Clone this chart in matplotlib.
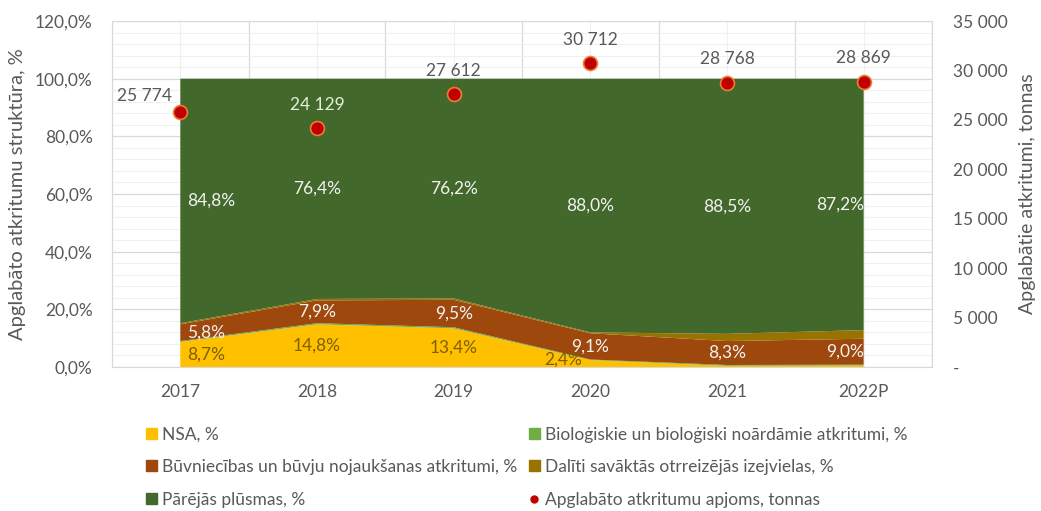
import matplotlib.pyplot as plt
from matplotlib.patches import Patch
from matplotlib.lines import Line2D
from matplotlib.ticker import FuncFormatter, MultipleLocator

plt.rcParams['font.family'] = ['Lato', 'DejaVu Sans']

years = ['2017', '2018', '2019', '2020', '2021', '2022P']
nsa = [8.7, 14.8, 13.4, 2.4, 0.4, 0.5]
bio = [0.3, 0.4, 0.4, 0.2, 0.3, 0.3]
constr = [5.8, 7.9, 9.5, 9.1, 8.3, 9.0]
separate = [0.4, 0.5, 0.5, 0.3, 2.5, 3.0]
other = [84.8, 76.4, 76.2, 88.0, 88.5, 87.2]
tonnes = [25774, 24129, 27612, 30712, 28768, 28869]

grey = '#595959'
colors = ['#FFC000', '#70AD47', '#9E480E', '#997300', '#43682B']
x = list(range(len(years)))
fs = 12.5

fig = plt.figure(figsize=(10.41, 5.11), dpi=100)
ax = fig.add_axes([0.1076, 0.2818, 0.7877, 0.6771])
ax.stackplot(x, nsa, bio, constr, separate, other, colors=colors, linewidth=0, zorder=2)

ax.set_xlim(-0.5, 5.5)
ax.set_ylim(0, 120)
ax.yaxis.set_major_locator(MultipleLocator(20))
ax.yaxis.set_minor_locator(MultipleLocator(4))
ax.set_xticks([i - 0.5 for i in range(7)])
ax.set_xticks(x, minor=True)
ax.set_xticklabels([])
ax.set_xticklabels(years, minor=True)
ax.yaxis.set_major_formatter(FuncFormatter(lambda v, p: f'{v:.1f}%'.replace('.', ',')))
ax.grid(which='major', color='#D9D9D9', lw=0.9, zorder=0)
ax.grid(which='minor', color='#F0F0F0', lw=0.8, zorder=0)
ax.set_axisbelow(True)
ax.tick_params(which='both', length=0, colors=grey, labelsize=fs)
ax.tick_params(axis='y', pad=14)
ax.tick_params(axis='x', which='minor', pad=12)
for s in ax.spines.values():
    s.set_color('#D9D9D9')
ax.set_ylabel('Apglabāto atkritumu struktūra, %', color=grey, fontsize=14.5, labelpad=6)

# band labels
def band_label(i, yv, txt, col, dx=0.0):
    ha = 'center'
    xx = i + dx
    if i == 0:
        ha, xx = 'left', i + 0.05
    elif i == len(years) - 1:
        ha, xx = 'right', i
    ax.text(xx, yv, txt, ha=ha, va='center', color=col, fontsize=fs, zorder=5)

for i in x:
    b_nsa = nsa[i] / 2
    b_con = nsa[i] + bio[i] + constr[i] / 2
    b_oth = 100 - other[i] / 2
    band_label(i, b_oth, f'{other[i]:.1f}%'.replace('.', ','), '#F2F2F2')
    band_label(i, max(b_con, 4.3), f'{constr[i]:.1f}%'.replace('.', ','), '#F2F2F2')
    if nsa[i] >= 2:
        if nsa[i] < 5:
            band_label(i, 2.4, f'{nsa[i]:.1f}%'.replace('.', ','), '#7F6000', dx=-0.2)
        else:
            band_label(i, b_nsa, f'{nsa[i]:.1f}%'.replace('.', ','), '#7F6000')

ax2 = ax.twinx()
ax2.set_ylim(0, 35000)
ax2.yaxis.set_major_locator(MultipleLocator(5000))
ax2.yaxis.set_major_formatter(FuncFormatter(
    lambda v, p: '-' if v == 0 else f'{int(v):,}'.replace(',', ' ')))
ax2.tick_params(length=0, colors=grey, labelsize=fs, pad=15)
for s in ax2.spines.values():
    s.set_visible(False)
ax2.set_ylabel('Apglabātie atkritumi, tonnas', color=grey, fontsize=14, labelpad=8)
ax2.plot(x, tonnes, ls='none', marker='o', ms=10, mfc='#C00000', mec='#ED7D31', mew=1.2, zorder=6)
for i, t in enumerate(tonnes):
    txt = f'{t:,}'.replace(',', ' ')
    if i == 0:
        ax2.annotate(txt, (i, t), xytext=(-6, 6), textcoords='offset points',
                     ha='right', va='bottom', color=grey, fontsize=fs)
    else:
        col = '#E2EFDA' if t < 24800 else grey
        ax2.annotate(txt, (i, t), xytext=(0, 11), textcoords='offset points',
                     ha='center', va='bottom', color=col, fontsize=fs)

handles = [
    Patch(color=colors[0], label='NSA, %'),
    Patch(color=colors[2], label='Būvniecības un būvju nojaukšanas atkritumi, %'),
    Patch(color=colors[4], label='Pārējās plūsmas, %'),
    Patch(color=colors[1], label='Bioloģiskie un bioloģiski noārdāmie atkritumi, %'),
    Patch(color=colors[3], label='Dalīti savāktās otrreizējās izejvielas, %'),
    Line2D([], [], ls='none', marker='o', ms=5, mfc='#C00000', mec='#C00000',
           label='Apglabāto atkritumu apjoms, tonnas'),
]
leg = fig.legend(handles=handles, loc='upper left', bbox_to_anchor=(0.137, 0.172), ncol=2,
                 frameon=False, fontsize=12.5, handlelength=0.6, handleheight=0.6,
                 handletextpad=0.3, labelspacing=0.95, columnspacing=0.7,
                 borderaxespad=0, borderpad=0.2)
for t in leg.get_texts():
    t.set_color(grey)

fig.savefig('out.png', dpi=100)
